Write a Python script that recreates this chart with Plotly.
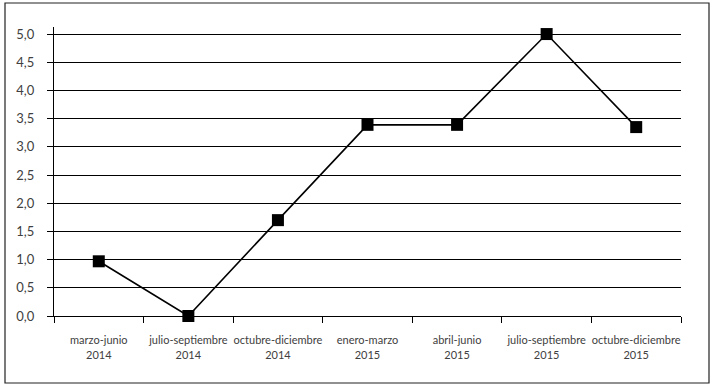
import plotly.graph_objects as go

categories = ["marzo-junio<br>2014", "julio-septiembre<br>2014", "octubre-diciembre<br>2014",
              "enero-marzo<br>2015", "abril-junio<br>2015", "julio-septiembre<br>2015",
              "octubre-diciembre<br>2015"]
values = [0.97, 0.0, 1.70, 3.39, 3.39, 5.0, 3.35]
y_ticks = [0.0, 0.5, 1.0, 1.5, 2.0, 2.5, 3.0, 3.5, 4.0, 4.5, 5.0]

W, H = 719, 390
L, R, T, B = 54, 38, 27, 74
pw, ph = W - L - R, H - T - B
ymax = 5.125

fig = go.Figure()
fig.add_trace(go.Scatter(
    x=categories, y=values, mode="lines+markers",
    line=dict(color="black", width=1.6),
    marker=dict(symbol="square", size=12, color="black"),
    cliponaxis=False, showlegend=False,
))

def px_x(p):
    return (p - L) / pw

def px_y(p):
    return (H - B - p) / ph

fig.add_shape(type="rect", xref="paper", yref="paper",
              x0=px_x(5), x1=px_x(709), y0=px_y(383), y1=px_y(3),
              line=dict(color="#222", width=1.2), fillcolor="rgba(0,0,0,0)")

fig.update_layout(
    width=W, height=H,
    margin=dict(l=L, r=R, t=T, b=B, pad=0, autoexpand=False),
    paper_bgcolor="white", plot_bgcolor="white",
    separators=",.",
    font=dict(family="Lato", size=11, color="#404040"),
)
fig.update_xaxes(
    type="category", tickson="boundaries", ticks="outside", ticklen=6,
    tickcolor="black", tickwidth=1.2, tickangle=0, automargin=False,
    showline=True, linecolor="black", linewidth=1.2,
    showgrid=False, zeroline=False, range=[-0.5, 6.5],
    tickfont=dict(family="Lato", size=11, color="#404040"), ticklabelstandoff=14,
)
fig.update_yaxes(
    range=[0, ymax], tickvals=y_ticks, tickformat=".1f", automargin=False,
    ticks="outside", ticklen=6, tickcolor="black", tickwidth=1.2,
    showline=True, linecolor="black", linewidth=1.2,
    showgrid=True, gridcolor="black", gridwidth=1.1, zeroline=False,
    tickfont=dict(family="Lato", size=13, color="#404040"), ticklabelstandoff=10,
)
fig.write_html("out.html", config={"displayModeBar": False},
               post_script="document.body.style.margin='0';document.body.style.overflow='hidden';")
